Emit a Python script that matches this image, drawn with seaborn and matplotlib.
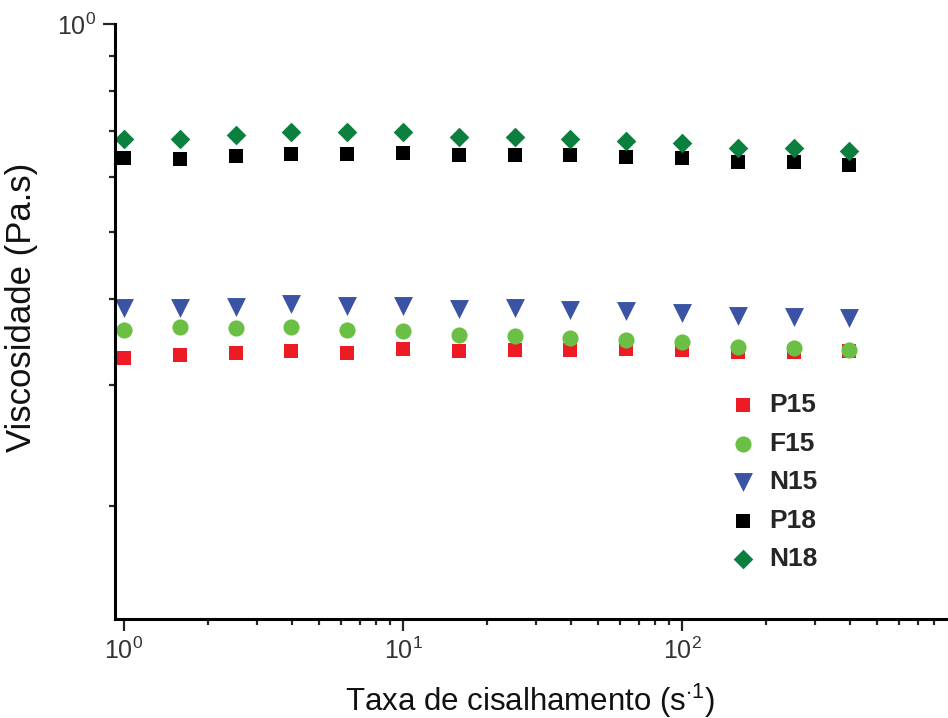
import numpy as np
import pandas as pd
import matplotlib
matplotlib.use("Agg")
import matplotlib.pyplot as plt
import seaborn as sns
from matplotlib.ticker import LogLocator, NullFormatter

# ---- data ----
shear_rate = [1.0, 1.585, 2.512, 3.981, 6.310, 10.0, 15.85, 25.12, 39.81, 63.10, 100.0, 158.5, 251.2, 398.1]
P15 = [0.328, 0.331, 0.334, 0.336, 0.334, 0.338, 0.336, 0.337, 0.337, 0.338, 0.337, 0.335, 0.335, 0.336]
F15 = [0.360, 0.364, 0.363, 0.364, 0.360, 0.359, 0.354, 0.353, 0.351, 0.348, 0.346, 0.340, 0.339, 0.337]
N15 = [0.388, 0.388, 0.389, 0.393, 0.390, 0.390, 0.386, 0.388, 0.385, 0.384, 0.381, 0.377, 0.376, 0.375]
P18 = [0.639, 0.637, 0.644, 0.648, 0.648, 0.650, 0.646, 0.646, 0.646, 0.641, 0.639, 0.631, 0.631, 0.625]
N18 = [0.681, 0.681, 0.690, 0.697, 0.697, 0.697, 0.686, 0.686, 0.681, 0.677, 0.672, 0.661, 0.661, 0.655]
series_names = ["P15", "F15", "N15", "P18", "N18"]
series_values = [P15, F15, N15, P18, N18]

# ---- styles ----
colors = {"P15": "#ED1C24", "F15": "#6CBF45", "N15": "#3A53A4", "P18": "#000000", "N18": "#0B7F3D"}
markers = {"P15": "s", "F15": "o", "N15": "v", "P18": "s", "N18": "D"}
sizes = {"P15": 105, "F15": 135, "N15": 185, "P18": 110, "N18": 100}

sns.set_style("ticks")
plt.rcParams["font.family"] = ["Liberation Sans", "DejaVu Sans"]
plt.rcParams["mathtext.fontset"] = "custom"
plt.rcParams["mathtext.rm"] = "Liberation Sans"
plt.rcParams["mathtext.it"] = "Liberation Sans:italic"
plt.rcParams["mathtext.bf"] = "Liberation Sans:bold"

df = pd.DataFrame({
    "rate": np.tile(shear_rate, len(series_names)),
    "visc": np.concatenate(series_values),
    "amostra": np.repeat(series_names, len(shear_rate)),
})

fig = plt.figure(figsize=(9.48, 7.18), dpi=100)
ax = fig.add_axes([115 / 948, 1 - 619 / 718, 1 - 115 / 948, (619 - 24) / 718])

for name in series_names:
    sub = df[df["amostra"] == name]
    sns.scatterplot(data=sub, x="rate", y="visc", ax=ax, marker=markers[name],
                    color=colors[name], s=sizes[name], linewidth=0, label=name)

ax.set_xscale("log")
ax.set_yscale("log")
ax.set_xlim(10 ** (-9 / 279), 10 ** ((948 - 124) / 279))
ax.set_ylim(10 ** (-595 / 690), 1.0)

ax.xaxis.set_major_locator(LogLocator(base=10))
ax.xaxis.set_minor_locator(LogLocator(base=10, subs=np.arange(2, 10)))
ax.yaxis.set_major_locator(LogLocator(base=10))
ax.yaxis.set_minor_locator(LogLocator(base=10, subs=np.arange(2, 10)))
ax.xaxis.set_minor_formatter(NullFormatter())
ax.yaxis.set_minor_formatter(NullFormatter())

for side in ["top", "right"]:
    ax.spines[side].set_visible(False)
for side in ["left", "bottom"]:
    ax.spines[side].set_linewidth(2.2)
    ax.spines[side].set_color("black")

ax.tick_params(which="major", direction="out", length=8.5, width=1.6, labelsize=18,
               labelcolor="#333333", pad=5)
ax.tick_params(which="minor", direction="out", length=4, width=1.6)

ax.set_xlabel("Taxa de cisalhamento (s$^{\\cdot 1}$)", fontsize=22.5, color="#111111")
ax.set_ylabel("Viscosidade (Pa.s)", fontsize=25, color="#111111")
ax.xaxis.set_label_coords(0.498, -0.105)
ax.yaxis.set_label_coords(-0.092, 0.524)

leg = ax.legend(loc="upper left", bbox_to_anchor=(730 / 948, 1 - 393 / 718),
                bbox_transform=fig.transFigure, frameon=False, borderpad=0,
                borderaxespad=0, handlelength=1.0, handletextpad=0.5,
                labelspacing=0.55, prop={"weight": "bold", "size": 19})

fig.savefig("out.png", dpi=100)
